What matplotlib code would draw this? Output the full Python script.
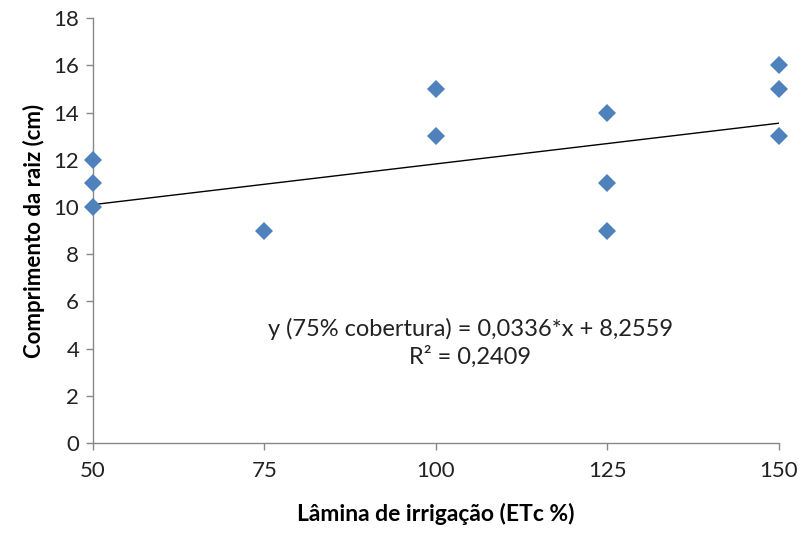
import numpy as np
import matplotlib.pyplot as plt

plt.rcParams['font.family'] = ['Lato', 'DejaVu Sans']

# dados
lamina = [50, 50, 50, 75, 100, 100, 125, 125, 125, 150, 150, 150]
comprimento = [10, 11, 12, 9, 13, 15, 9, 11, 14, 13, 15, 16]

# linha de tendencia (extremos)
trend_x = [50, 150]
trend_y = [10.1, 13.55]

xticks = [50, 75, 100, 125, 150]
yticks = np.arange(0, 19, 2)

fig = plt.figure(figsize=(8.02, 5.35), dpi=100)
ax = fig.add_axes([0.116, 0.172, 0.855, 0.794])

ax.plot(trend_x, trend_y, color='black', lw=1.0, zorder=2)
ax.plot(lamina, comprimento, 'D', color='#4F81BD', markersize=9.5,
        markeredgewidth=0, zorder=3, clip_on=False)

ax.set_xlim(50, 150)
ax.set_ylim(0, 18)
ax.set_xticks(xticks)
ax.set_yticks(yticks)
for s in ['top', 'right']:
    ax.spines[s].set_visible(False)
for s in ['left', 'bottom']:
    ax.spines[s].set_color('#888888')
    ax.spines[s].set_linewidth(1.0)
ax.tick_params(colors='#888888', labelcolor='#222222', labelsize=16,
               length=5, width=1.0, direction='out')
ax.tick_params(axis='x', pad=8)
ax.tick_params(axis='y', pad=5)

ax.set_xlabel('Lâmina de irrigação (ETc %)', fontsize=16.5, fontweight='bold',
              labelpad=16)
ax.set_ylabel('Comprimento da raiz (cm)', fontsize=16, fontweight='bold',
              labelpad=6)

ax.text(105, 4.85, 'y (75% cobertura) = 0,0336*x + 8,2559', fontsize=17,
        ha='center', va='center', color='#222222')
ax.text(105, 3.65, 'R² = 0,2409', fontsize=17, ha='center', va='center',
        color='#222222')

fig.savefig('out.png', dpi=100)
